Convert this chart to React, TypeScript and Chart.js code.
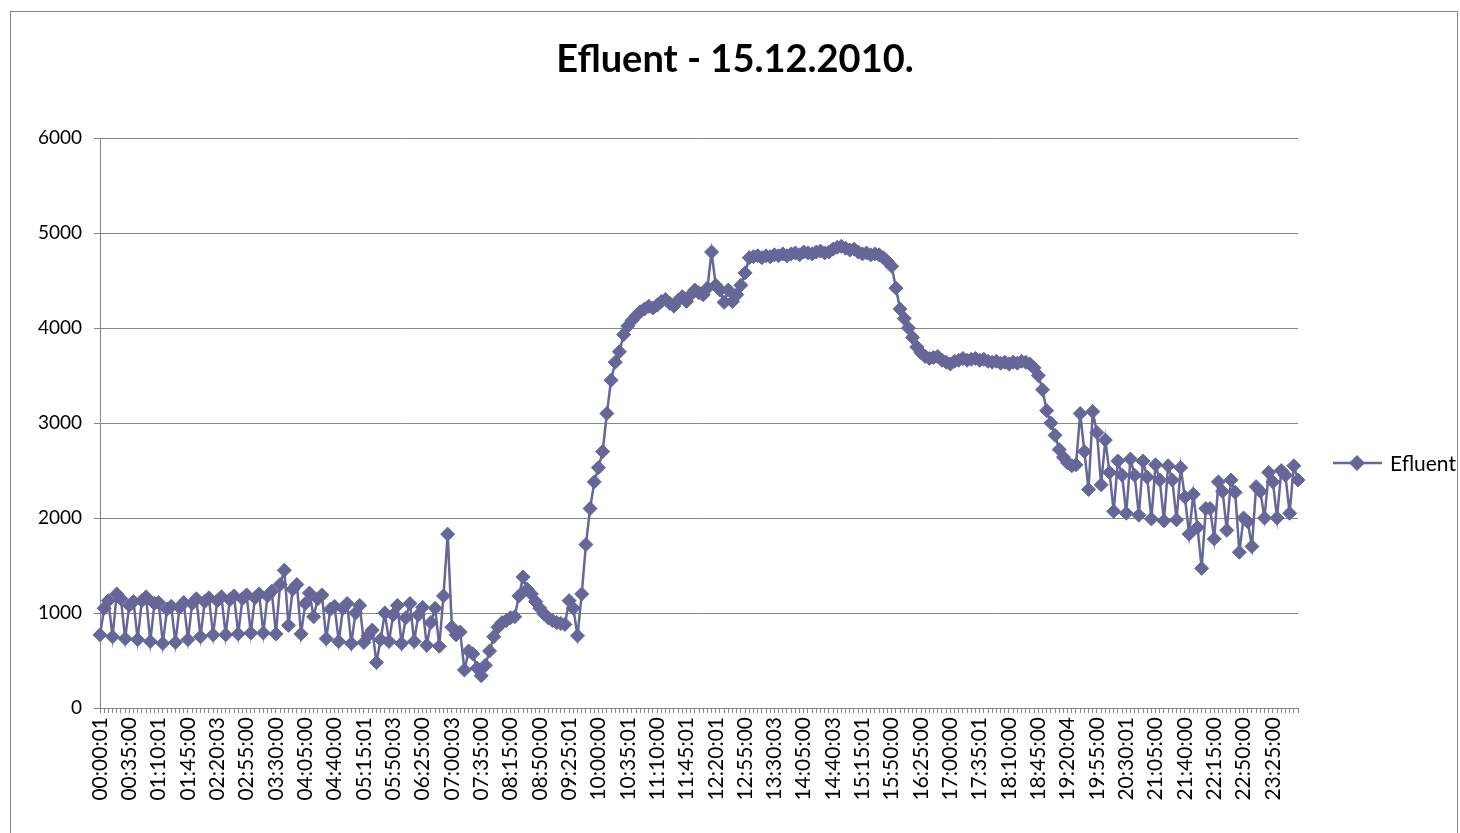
import React, { useEffect, useRef } from "react";
import { Chart, registerables } from "chart.js";

Chart.register(...registerables);

const chartTitle = "Efluent - 15.12.2010.";
const seriesName = "Efluent";

const tickLabels = [
  "00:00:01", "00:35:00", "01:10:01", "01:45:00", "02:20:03", "02:55:00", "03:30:00",
  "04:05:00", "04:40:00", "05:15:01", "05:50:03", "06:25:00", "07:00:03", "07:35:00",
  "08:15:00", "08:50:00", "09:25:01", "10:00:00", "10:35:01", "11:10:00", "11:45:01",
  "12:20:01", "12:55:00", "13:30:03", "14:05:00", "14:40:03", "15:15:01", "15:50:00",
  "16:25:00", "17:00:00", "17:35:01", "18:10:00", "18:45:00", "19:20:04", "19:55:00",
  "20:30:01", "21:05:00", "21:40:00", "22:15:00", "22:50:00", "23:25:00",
];

const yTicks = [0, 1000, 2000, 3000, 4000, 5000, 6000];

const efluentValues = [
  770, 1050, 1130, 750, 1200, 1150, 730, 1080, 1120, 720,
  1130, 1170, 700, 1100, 1110, 680, 1040, 1070, 690, 1060,
  1110, 720, 1100, 1150, 750, 1120, 1160, 770, 1130, 1170,
  770, 1140, 1180, 780, 1150, 1190, 790, 1160, 1200, 790,
  1180, 1230, 780, 1300, 1450, 870, 1250, 1300, 780, 1100,
  1210, 960, 1150, 1190, 730, 1040, 1070, 700, 1050, 1100,
  680, 1000, 1080, 690, 760, 820, 480, 720, 1000, 700,
  980, 1080, 680, 950, 1100, 700, 980, 1060, 660, 900,
  1050, 650, 1180, 1830, 850, 770, 800, 400, 600, 570,
  420, 340, 450, 600, 750, 850, 900, 920, 950, 960,
  1180, 1380, 1250, 1200, 1120, 1050, 990, 950, 920, 900,
  890, 880, 1130, 1050, 760, 1200, 1720, 2100, 2380, 2530,
  2700, 3100, 3450, 3640, 3750, 3930, 4020, 4080, 4130, 4170,
  4200, 4230, 4210, 4240, 4280, 4300, 4260, 4230, 4290, 4330,
  4280, 4350, 4400, 4370, 4350, 4420, 4800, 4450, 4400, 4270,
  4400, 4280, 4350, 4450, 4580, 4740, 4750, 4760, 4740, 4760,
  4750, 4770, 4760, 4780, 4760, 4780, 4790, 4770, 4800, 4790,
  4780, 4800, 4810, 4790, 4800, 4830, 4850, 4860, 4840, 4820,
  4830, 4800, 4780, 4790, 4770, 4780, 4770, 4740, 4700, 4650,
  4420, 4200, 4100, 4000, 3900, 3800, 3740, 3700, 3680, 3690,
  3700, 3660, 3640, 3620, 3650, 3660, 3680, 3660, 3670, 3680,
  3660, 3670, 3650, 3640, 3650, 3630, 3640, 3620, 3640, 3630,
  3650, 3640, 3620, 3580, 3500, 3350, 3130, 3000, 2870, 2720,
  2640, 2580, 2550, 2560, 3100, 2700, 2300, 3120, 2900, 2350,
  2820, 2480, 2070, 2600, 2450, 2050, 2620, 2450, 2030, 2600,
  2430, 1990, 2560, 2400, 1970, 2550, 2400, 1980, 2530, 2220,
  1830, 2250, 1900, 1470, 2100, 2100, 1780, 2380, 2280, 1870,
  2400, 2270, 1640, 2000, 1960, 1700, 2330, 2280, 2000, 2480,
  2380, 2000, 2500, 2450, 2050, 2550, 2400,
];

const pad = (n: number) => (n < 10 ? "0" + n : "" + n);
// category labels: 5-minute samples (one sample missing before 08:00)
const categories = efluentValues.map((_, i) => {
  if (i % 7 === 0 && tickLabels[i / 7]) return tickLabels[i / 7];
  const slot = i <= 94 ? i : i + 1;
  const mins = slot * 5;
  return pad(Math.floor(mins / 60)) + ":" + pad(mins % 60) + ":00";
});

const SERIES_COLOR = "#666699";
const GRID_COLOR = "#868686";
const FONT = "Lato, 'Open Sans', sans-serif";

const decorPlugin = {
  id: "decor",
  beforeDraw(chart: any) {
    const ctx = chart.ctx;
    ctx.save();
    ctx.fillStyle = "#ffffff";
    ctx.fillRect(0, 0, chart.width, chart.height);
    ctx.strokeStyle = GRID_COLOR;
    ctx.lineWidth = 1;
    ctx.strokeRect(10.5, 11.5, 1447, 900);
    ctx.restore();
  },
  afterDraw(chart: any) {
    const ctx = chart.ctx;
    ctx.save();
    ctx.fillStyle = "#000000";
    ctx.font = "bold 38px " + FONT;
    ctx.textAlign = "center";
    ctx.textBaseline = "middle";
    ctx.fillText(chartTitle, 735, 60);

    // legend
    const ly = 463;
    ctx.strokeStyle = SERIES_COLOR;
    ctx.lineWidth = 2.5;
    ctx.beginPath();
    ctx.moveTo(1333, ly);
    ctx.lineTo(1382, ly);
    ctx.stroke();
    ctx.fillStyle = SERIES_COLOR;
    ctx.beginPath();
    const r = 8;
    const cx = 1357;
    ctx.moveTo(cx - r, ly);
    ctx.lineTo(cx, ly - r);
    ctx.lineTo(cx + r, ly);
    ctx.lineTo(cx, ly + r);
    ctx.closePath();
    ctx.fill();
    ctx.fillStyle = "#000000";
    ctx.font = "21px " + FONT;
    ctx.textAlign = "left";
    ctx.textBaseline = "middle";
    ctx.fillText(seriesName, 1390, ly + 1);
    ctx.restore();
  },
};

export default function App() {
  const canvasRef = useRef<HTMLCanvasElement | null>(null);

  useEffect(() => {
    if (!canvasRef.current) return;
    const chart = new Chart(canvasRef.current, {
      type: "line",
      data: {
        labels: categories,
        datasets: [
          {
            label: seriesName,
            data: efluentValues,
            borderColor: SERIES_COLOR,
            backgroundColor: SERIES_COLOR,
            borderWidth: 2.5,
            pointStyle: "rectRot",
            pointRadius: 7,
            pointBorderWidth: 1,
            pointBackgroundColor: SERIES_COLOR,
            pointBorderColor: SERIES_COLOR,
            tension: 0,
          },
        ],
      },
      options: {
        responsive: false,
        animation: false,
        layout: { padding: { left: 10, right: 162, top: 138, bottom: 0 } },
        plugins: {
          legend: { display: false },
          title: { display: false },
          tooltip: { enabled: false },
        },
        scales: {
          x: {
            type: "category",
            offset: false,
            grid: {
              display: true,
              drawOnChartArea: false,
              drawTicks: true,
              tickLength: 5,
              color: GRID_COLOR,
            },
            border: { display: true, color: GRID_COLOR, width: 1 },
            ticks: {
              autoSkip: false,
              maxRotation: 90,
              minRotation: 90,
              padding: 4,
              color: "#000000",
              font: { family: FONT, size: 21 },
              callback: (_v: any, idx: number) => (idx % 7 === 0 ? categories[idx] : ""),
            },
            afterFit: (scale: any) => {
              scale.height = 125;
            },
          },
          y: {
            min: 0,
            max: 6000,
            afterBuildTicks: (scale: any) => {
              scale.ticks = yTicks.map((v) => ({ value: v }));
            },
            grid: {
              color: GRID_COLOR,
              drawTicks: true,
              tickLength: 6,
            },
            border: { display: true, color: GRID_COLOR, width: 1 },
            ticks: {
              padding: 12,
              color: "#000000",
              font: { family: FONT, size: 19 },
              callback: (v: any) => String(v),
            },
            afterFit: (scale: any) => {
              scale.width = 90;
            },
          },
        },
      },
      plugins: [decorPlugin],
    });
    return () => chart.destroy();
  }, []);

  return (
    <div style={{ position: "fixed", left: 0, top: 0, width: 1460, height: 833, background: "#fff" }}>
      <canvas ref={canvasRef} width={1460} height={833} style={{ display: "block" }} />
    </div>
  );
}
